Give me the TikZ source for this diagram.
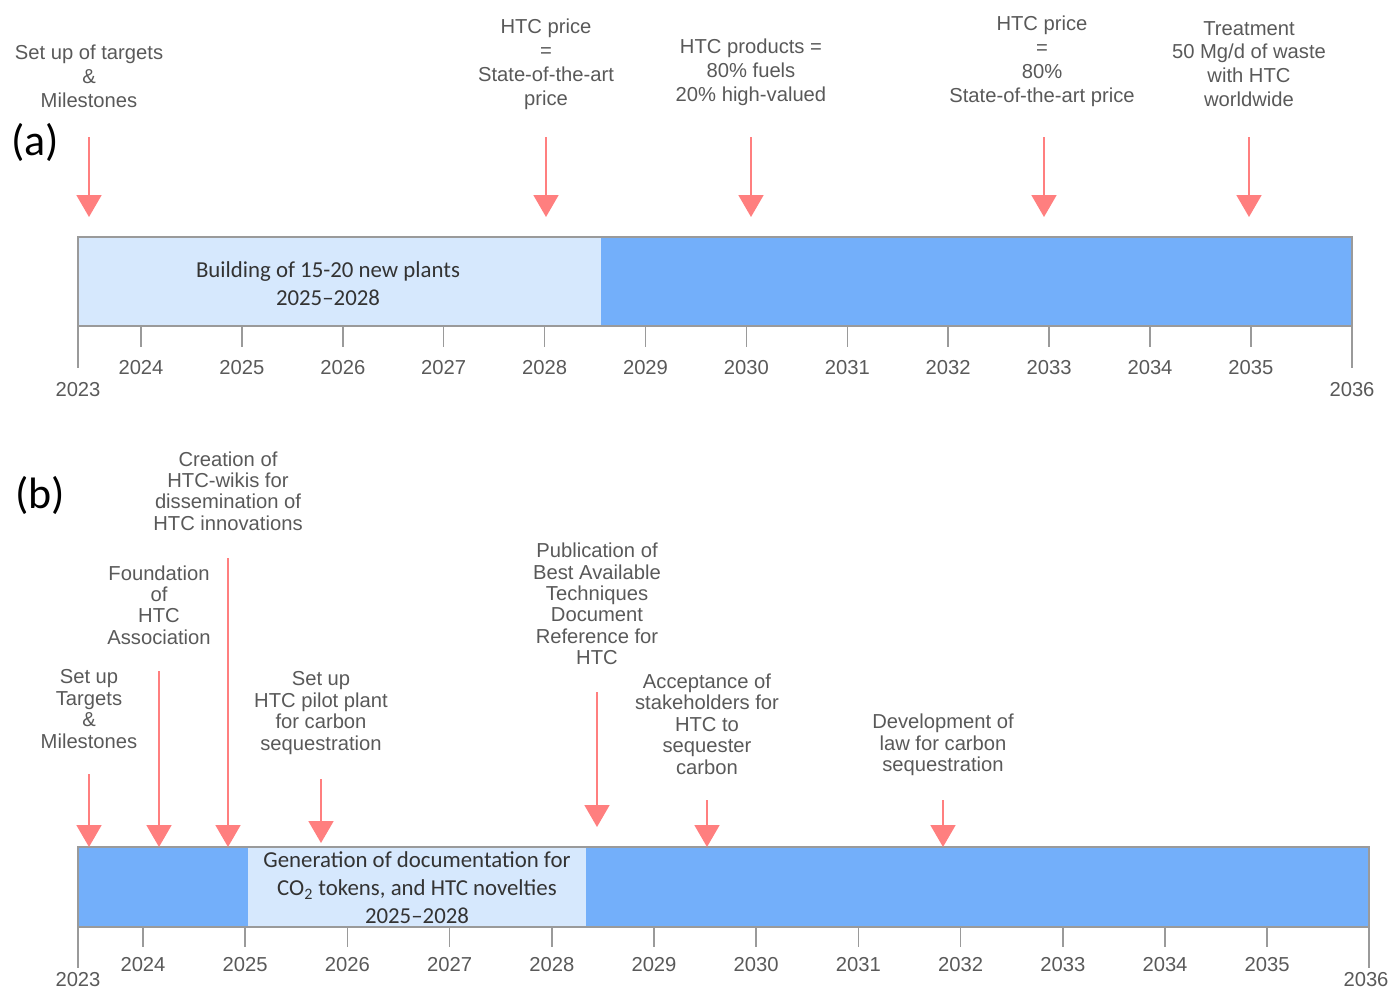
\documentclass[tikz,border=0pt]{standalone}
\usepackage{fontspec}
\setmainfont{Liberation Sans}
\newfontfamily\calfont{Carlito}
\usetikzlibrary{arrows.meta}

\definecolor{lblgray}{HTML}{595959}
\definecolor{barlight}{HTML}{D6E8FD}
\definecolor{bardark}{HTML}{73AFFA}
\definecolor{mspink}{HTML}{FF7F7F}
\definecolor{axgray}{HTML}{9A9A9A}

\tikzset{
  mslabel/.style={align=center, text=lblgray, inner sep=0pt, font=\fontsize{11.5}{13.6}\selectfont},
  mslabelb/.style={mslabel, font=\fontsize{11.5}{12.2}\selectfont},
  msarrow/.style={draw=mspink, line width=1.1pt, -{Triangle[width=0.5cm,length=0.44cm]}},
  yearlbl/.style={text=lblgray, inner sep=0pt, font=\fontsize{11.5}{13}\selectfont},
  yeartick/.style={draw=axgray, line width=0.9pt},
  bartext/.style={align=center, text=black!80, inner sep=0pt, font=\calfont\fontsize{13}{15.9}\selectfont},
  panellbl/.style={inner sep=0pt, font=\calfont\fontsize{25}{28}\selectfont},
}

\begin{document}
\begin{tikzpicture}[x=0.02cm, y=-0.02cm]
    \useasboundingbox (0,0) rectangle (1394,992);

    % (a)
    \node[panellbl] (pa) at (35,142) {(a)};

    \fill[barlight] (78,237) rectangle (601,326);
    \fill[bardark] (601,237) rectangle (1352,326);
    \draw[axgray, line width=0.6pt] (78,237) rectangle (1352,326);
    \node[bartext] (builda) at (328,284) {Building of 15-20 new plants\\2025–2028};

    \foreach \yr [evaluate=\yr as \xa using 141+(\yr-2024)*100.9] in {2024,...,2035} {
        \draw[yeartick] (\xa,326) -- (\xa,347);
        \node[yearlbl] (ya\yr) at (\xa,368) {\yr};
    }
    \draw[yeartick] (78,326) -- (78,368);
    \draw[yeartick] (1352,326) -- (1352,368);
    \node[yearlbl] (ya2023) at (78,390) {2023};
    \node[yearlbl] (ya2036) at (1352,390) {2036};

    \node[mslabel] (ma1) at (89,76) {Set up of targets\\\&\\Milestones};
    \node[mslabel] (ma2) at (546,64) {HTC price\\=\\State-of-the-art\\price};
    \node[mslabel] (ma3) at (751,72) {HTC products =\\80\% fuels\\20\% high-valued};
    \node[mslabel] (ma4) at (1042,61) {HTC price\\=\\80\%\\State-of-the-art price};
    \node[mslabel] (ma5) at (1249,64) {Treatment\\50 Mg/d of waste\\with HTC\\worldwide};

    \foreach \n/\xx in {1/89, 2/546, 3/751, 4/1044, 5/1249} {
        \coordinate (sa\n) at (\xx,137);
        \coordinate (ta\n) at (\xx,217);
        \draw[msarrow] (sa\n) -- (ta\n);
    }

    % (b)
    \node[panellbl] (pb) at (40,495) {(b)};

    \fill[bardark] (78,847) rectangle (248,927);
    \fill[barlight] (248,847) rectangle (586,927);
    \fill[bardark] (586,847) rectangle (1369,927);
    \draw[axgray, line width=0.6pt] (78,847) rectangle (1369,927);
    \node[bartext] (gendoc) at (417,888) {Generation of documentation for\\CO\textsubscript{2} tokens, and HTC novelties\\2025–2028};

    \foreach \yr [evaluate=\yr as \xb using 143+(\yr-2024)*102.2] in {2024,...,2035} {
        \draw[yeartick] (\xb,927) -- (\xb,947);
        \node[yearlbl] (yb\yr) at (\xb,965) {\yr};
    }
    \draw[yeartick] (78,927) -- (78,968);
    \draw[yeartick] (1369,927) -- (1369,968);
    \node[yearlbl] (yb2023) at (78,980) {2023};
    \node[yearlbl] (yb2036) at (1366,980) {2036};

    \node[mslabelb] (mb1) at (89,709) {Set up\\Targets\\\&\\Milestones};
    \node[mslabelb] (mb2) at (159,605) {Foundation\\of\\HTC\\Association};
    \node[mslabelb] (mb3) at (228,491) {Creation of\\HTC-wikis for\\dissemination of\\HTC innovations};
    \node[mslabelb] (mb4) at (321,713) {Set up\\HTC pilot plant\\for carbon\\sequestration};
    \node[mslabelb] (mb5) at (597,604) {Publication of\\Best Available\\Techniques\\Document\\Reference for\\HTC};
    \node[mslabelb] (mb6) at (707,724) {Acceptance of\\stakeholders for\\HTC to\\sequester\\carbon};
    \node[mslabelb] (mb7) at (943,745) {Development of\\law for carbon\\sequestration};

    \foreach \n/\xx/\ys/\ye in {1/89/774/847, 2/159/671/847, 3/228/558/847, 4/321/779/843,
                                5/597/692/827, 6/707/800/847, 7/943/800/847} {
        \coordinate (sb\n) at (\xx,\ys);
        \coordinate (tb\n) at (\xx,\ye);
        \draw[msarrow] (sb\n) -- (tb\n);
    }

\end{tikzpicture}
\end{document}
